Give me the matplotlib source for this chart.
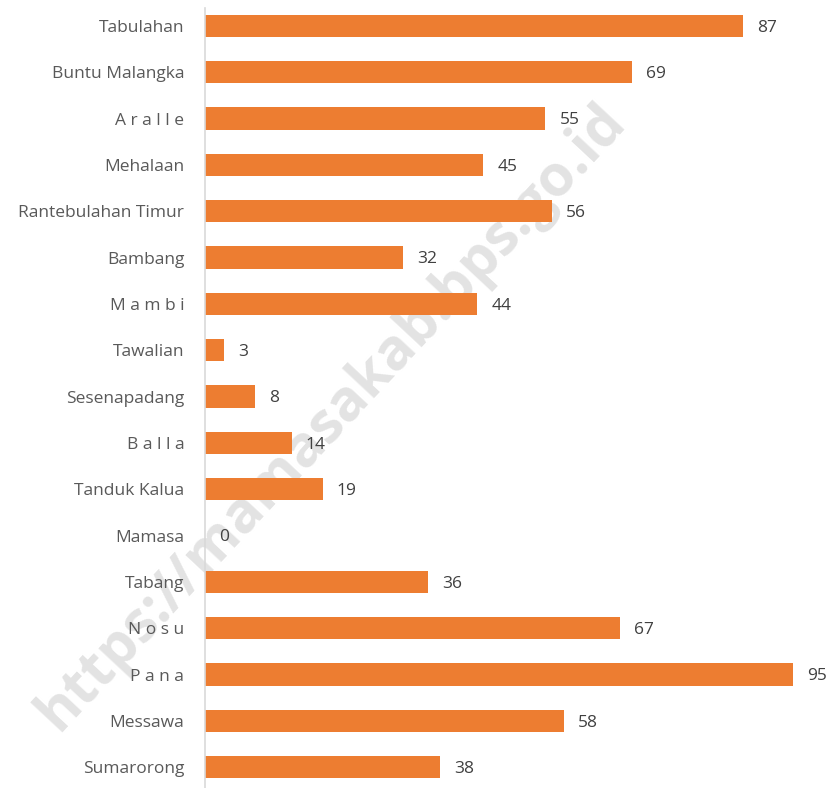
import matplotlib.pyplot as plt

kecamatan = ["Tabulahan", "Buntu Malangka", "A r a l l e", "Mehalaan",
             "Rantebulahan Timur", "Bambang", "M a m b i", "Tawalian",
             "Sesenapadang", "B a l l a", "Tanduk Kalua", "Mamasa",
             "Tabang", "N o s u", "P a n a", "Messawa", "Sumarorong"]
jumlah = [87, 69, 55, 45, 56, 32, 44, 3, 8, 14, 19, 0, 36, 67, 95, 58, 38]

plt.rcParams['font.family'] = ['Open Sans', 'DejaVu Sans']

fig = plt.figure(figsize=(8.3, 7.88), dpi=100)
ax = fig.add_axes([0.247, 0.0, 0.753, 0.99])

# urutan dari atas ke bawah
ypos = list(range(len(kecamatan) - 1, -1, -1))
ax.barh(ypos, jumlah, height=0.48, color='#ED7D31', zorder=2)

for y, v in zip(ypos, jumlah):
    ax.text(v + 2.3, y - 0.04, str(v), va='center', ha='left',
            fontsize=12.5, color='#404040', zorder=3)

ax.set_yticks(ypos)
ax.set_yticklabels(kecamatan, fontsize=12.5, color='#595959')
ax.tick_params(axis='y', length=0, pad=15)
ax.set_xticks([])
ax.set_xlim(0, 101)
ax.set_ylim(-0.45, 16.39)

for side in ['top', 'right', 'bottom']:
    ax.spines[side].set_visible(False)
ax.spines['left'].set_color('#d9d9d9')
ax.spines['left'].set_linewidth(1.2)

# watermark
fig.text(0.40, 0.47, "https://mamasakab.bps.go.id", rotation=47,
         ha='center', va='center', fontsize=41, fontweight='bold',
         color='#e3e3e3', zorder=0)
ax.set_zorder(1)
ax.patch.set_alpha(0)

fig.savefig("out.png", dpi=100)
